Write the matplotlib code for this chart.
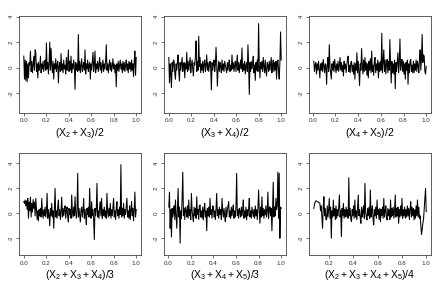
import numpy as np
import matplotlib
matplotlib.use("Agg")
import matplotlib.pyplot as plt

plt.rcParams['font.family'] = ['Liberation Sans', 'DejaVu Sans']
plt.rcParams['mathtext.fontset'] = 'custom'
plt.rcParams['mathtext.rm'] = 'Liberation Sans'
plt.rcParams['mathtext.it'] = 'Liberation Sans'

# series values (evenly spaced between start and end)
p1 = [0.9, -0.9, 0.6, -1.0, 0.5, -1.1, 0.3, -0.8, 0.4, 0.2,
      1.3, -0.3, 0.5, -0.4, 0.2, 0.9, -0.2, 1.4, 1.2, -0.3,
      0.3, -0.8, 0.4, -0.2, 0.1, 0.9, -0.4, 0.3, -0.1, 0.5,
      -0.3, 0.2, 0.6, -0.2, 1.95, -0.1, 0.4, -0.5, 0.3, 2.0,
      -0.2, 1.5, 0.2, -0.4, 0.5, -0.9, 0.3, -0.1, 0.7, -0.3,
      0.2, 0.5, -1.2, 0.1, 0.4, -0.3, 1.1, -0.2, 0.3, -0.4,
      0.6, -0.1, 0.2, -0.5, 0.8, -0.2, 0.3, 1.4, -0.3, 0.5,
      -0.2, 0.9, -0.4, 0.3, -0.1, 0.6, 0.1, -1.7, 0.4, -0.2,
      0.3, -0.3, 2.6, -0.2, 0.5, -0.4, 0.2, 0.7, -0.3, 0.1,
      0.4, -0.2, 1.4, -0.5, 0.3, -0.1, 0.6, -0.3, 0.2, 0.4,
      -0.9, 0.3, -0.2, 0.5, 1.2, -0.3, 0.2, 1.3, -0.4, 0.3,
      -0.1, 0.5, -0.3, 0.2, 0.8, -0.2, 0.4, -0.4, 0.1, 0.6,
      -0.3, 0.3, -0.1, 0.5, 1.8, -0.2, 0.3, -0.4, 0.2, 0.6,
      -0.2, 0.4, -0.3, 0.1, 0.7, -0.1, 0.3, -0.4, 0.2, -1.5,
      0.3, -0.2, 0.5, -0.3, 0.2, 0.6, -0.1, 0.3, -0.4, 0.5,
      -0.2, 0.4, -0.3, 0.2, 0.6, -0.2, 0.3, -0.4, 0.5, -0.1,
      0.4, -0.3, 0.6, -0.2, 0.3, -0.7, 0.5, 1.3, -0.6, 0.8]

p2 = [0.8, -1.2, 0.3, -0.5, -1.55, 0.4, -0.3, 0.6, 0.5, -0.4,
      -0.9, 0.3, -0.2, 0.5, 1.0, -0.3, -1.05, 0.4, -0.2, 0.3,
      0.8, -0.3, 0.2, 0.4, -0.8, 0.3, -0.1, 1.2, -0.3, 0.5,
      -0.2, 0.3, 0.8, -0.4, 0.2, 0.6, -0.1, -0.65, 0.4, 0.2,
      0.9, 2.1, -0.3, 0.5, -0.2, 2.47, 0.1, 0.8, -0.4, 0.3,
      -0.2, 0.5, -0.4, 0.3, 0.6, -0.3, 0.2, 1.0, -0.2, 0.4,
      -0.3, 0.2, 0.5, -0.1, -1.75, 0.4, -0.2, 0.3, 0.6, -0.3,
      0.2, 1.6, 0.3, -1.45, -0.2, 0.5, -0.3, 0.4, 0.1, -0.4,
      0.6, -0.2, 0.3, -0.3, 0.5, 0.2, -0.1, -0.4, 0.4, -0.2,
      0.3, 0.6, -0.3, 0.2, -0.2, 1.0, -0.1, 0.4, -0.3, 0.2,
      0.5, -0.3, 0.3, 1.0, -0.2, 0.4, -0.4, 0.2, 0.6, -0.1,
      1.55, -0.3, 0.3, -0.2, 0.5, -0.5, 0.2, 0.4, -0.3, 1.8,
      0.2, -2.1, 0.4, -0.3, 0.5, -0.1, 0.3, 0.9, -0.4, 0.2,
      -1.0, 0.4, -0.2, 0.6, -0.3, 3.45, 0.2, -0.8, 0.4, -0.1,
      0.5, -0.3, 0.8, 0.1, -0.4, 0.6, -0.2, -0.65, 0.4, 0.2,
      -0.3, 0.5, -0.2, 0.3, 0.8, -0.4, 0.2, 0.6, -0.3, 0.4,
      -0.2, 0.5, -0.9, 0.3, 0.6, -0.3, -0.9, 0.4, 2.8, 0.6]

p3 = [0.5, -0.3, 0.2, 0.4, -0.5, 0.3, -0.2, 0.5, -0.1, -0.8,
      0.3, -0.2, 0.4, -0.3, 0.65, 0.1, -0.4, 0.3, 0.2, -1.3,
      0.2, 0.8, -0.3, 1.8, 0.1, -0.4, -0.9, 0.3, -0.2, 0.5,
      -0.3, 0.65, 0.1, -0.4, 0.3, -0.2, 0.5, -0.3, 0.2, 0.8,
      -0.2, 0.4, -0.3, 0.2, -0.65, 0.5, -0.1, 0.3, -0.4, 0.2,
      0.6, 0.9, -0.3, 0.2, -0.4, 0.4, 0.5, -0.3, 0.2, -0.5,
      0.4, -0.9, 0.3, -0.2, 1.17, -0.4, 0.5, -0.3, -1.4, 0.3,
      -0.2, 1.5, 0.2, -0.5, 0.6, -0.3, 0.8, -0.2, 0.4, -0.6,
      0.3, -0.8, 0.5, -0.2, 0.7, -0.4, 1.3, -0.3, 0.2, -0.6,
      0.5, 0.8, -0.4, 0.3, -0.2, 0.6, -0.8, 0.4, -0.3, 0.5,
      -0.2, 2.7, -0.4, 0.5, 1.4, -0.3, 0.6, -0.5, 0.3, 0.65,
      -0.4, 0.5, -0.2, 2.2, 0.3, -1.2, 0.5, -0.4, 0.3, -0.5,
      0.6, -1.65, 0.4, -0.3, 0.5, 1.17, -0.4, 0.3, 2.25, -0.2,
      0.4, 0.65, -0.3, 0.5, -0.5, 0.3, -0.9, 0.4, -0.2, 0.6,
      -1.3, 0.3, -0.4, 0.5, 0.65, -0.3, 0.2, -0.4, 0.5, -0.4,
      0.3, -0.2, 0.6, -0.3, 0.5, 0.2, -0.4, 0.7, 1.4, -0.2,
      0.8, 2.6, 0.4, 1.0, 0.9, -0.3, -0.5, 0.1]

p4 = [0.93, 0.8, 1.07, 0.6, 1.0, 0.3, 1.2, -0.4, 0.9, 0.2,
      1.3, -0.3, 0.8, 0.1, 1.1, 0.4, 0.9, -0.2, 1.2, 0.3,
      -0.5, 0.2, -0.6, 0.3, -0.2, 0.4, -0.3, 1.2, 0.1, -0.4,
      0.3, -0.2, 0.5, -0.3, 0.2, 1.6, -0.4, 0.3, -0.1, -1.0,
      0.4, -0.2, 0.8, -0.3, 0.2, -1.2, 0.4, 2.0, -0.3, 0.2,
      -0.4, 0.5, 1.07, -0.2, 0.3, -0.5, 0.2, 1.3, -0.3, 0.4,
      -0.2, 0.3, 0.6, -0.4, 0.2, 0.5, -0.3, -0.7, 0.4, -0.1,
      0.3, -0.4, 1.47, 0.2, -0.3, 0.5, -0.2, 1.33, 0.1, -0.4,
      0.3, 3.2, -0.3, 0.4, -0.2, -0.7, 0.3, 0.5, -0.3, 0.2,
      1.2, -0.4, 0.3, -0.2, -0.9, 0.4, -0.1, 0.5, -0.3, 2.0,
      0.2, -0.4, 0.93, -0.2, 0.3, -0.5, -2.1, 0.4, -0.2, 0.3,
      2.4, -0.3, 0.2, -0.4, 0.5, 0.93, -0.2, 1.2, -0.4, 0.3,
      -0.2, 0.5, -0.3, 0.2, -0.4, 1.6, 0.1, -0.3, 0.4, -0.2,
      0.8, -0.4, 0.3, -0.2, 0.5, 1.2, -0.3, 0.2, -0.5, 0.4,
      0.93, -0.2, 0.3, -0.4, 0.5, -0.1, 3.9, -0.3, 0.4, -0.2,
      0.8, -0.4, 0.3, -0.1, 0.5, 1.2, -0.3, 0.2, -0.4, 0.6,
      -0.5, 0.3, 0.93, -0.2, 0.4, -0.6, 0.3, 1.7, -0.3, 0.3]

p5 = [0.5, 1.7, -1.2, 0.3, -1.9, 0.4, -0.3, 0.1, 0.6, -0.5,
      1.07, -0.2, -1.2, 0.4, 2.0, -0.3, 0.5, -2.4, 0.2, -0.4,
      1.2, 3.3, -0.2, 0.4, -0.5, 0.5, 0.2, -0.3, 0.6, -0.4,
      1.07, -0.2, 0.3, -0.5, 1.6, 0.2, -0.3, -0.67, 0.5, -0.2,
      0.4, -0.4, 1.33, -0.1, 0.3, -0.5, 0.6, 0.67, -0.3, 0.2,
      -0.4, 0.5, -0.53, 0.3, 0.8, -0.3, 0.2, -1.4, 0.4, -0.2,
      0.5, -0.3, 1.2, -0.1, 0.3, -0.4, 0.6, 0.53, -0.3, 0.2,
      -0.5, 0.4, 1.6, -0.2, 0.3, -0.4, 0.5, -0.1, 0.3, -0.5,
      1.2, 0.2, -0.3, 0.4, -0.2, -0.67, 0.5, -0.3, 0.2, 0.6,
      0.93, -0.3, 0.2, -0.4, 0.5, -0.2, 0.3, 0.67, -0.4, 0.2,
      -0.3, 0.5, 3.2, -0.2, 0.3, -0.4, 0.4, 0.13, -0.3, 0.5,
      -0.2, 0.3, 1.07, -0.4, 0.2, -0.3, 0.5, -0.53, 0.3, -0.2,
      0.4, 1.2, -0.3, 0.2, -0.4, 0.5, 0.1, -0.27, 0.3, -0.4,
      0.6, -0.2, 0.3, -0.5, 0.4, 1.87, 0.2, -0.8, 0.5, -0.3,
      1.33, -0.2, 0.4, -0.4, 0.3, -0.13, 0.6, -0.3, 0.2, 1.7,
      -0.4, 0.3, 0.53, -0.2, 0.4, -1.4, 0.3, 2.5, -0.3, 0.5,
      -0.2, 1.2, 0.3, 0.6, 3.3, -0.4, 3.2, -2.0, 0.5, 0.4]

p6 = [0.4, 0.7, 0.9, 1.0, 0.98, 0.95, 0.93, 0.9, 0.85, 0.8,
      0.2, 0.6, -0.3, -1.2, 0.5, 1.33, -0.2, 0.4, -0.5, -0.53,
      0.6, -0.3, 0.3, 1.2, -0.4, 0.5, -2.0, 0.2, -0.3, 1.07,
      -0.2, 0.4, -0.5, 0.6, -0.4, 0.3, -0.2, 0.5, 1.47, -0.3,
      0.2, -1.87, 0.4, -0.2, 0.8, -0.4, 0.3, -0.3, 0.5, -0.27,
      0.3, -0.4, 2.85, -0.2, 0.4, -0.5, -0.67, 0.3, -0.2, 0.6,
      -0.4, 1.07, -0.3, 0.2, -0.5, 0.4, 1.47, -0.2, 0.3, -0.4,
      -0.8, 0.5, -0.3, 0.2, 0.6, -0.4, 2.4, 0.1, -0.3, -0.53,
      0.4, -0.2, 0.5, -0.4, 1.87, -0.3, 0.2, 0.6, -0.4, -0.93,
      0.3, -0.2, 0.5, -0.4, 1.07, -0.1, 0.3, -0.5, 0.4, -0.67,
      0.3, -0.2, 0.5, -0.4, 1.2, -0.3, 0.2, 0.6, -0.4, -0.53,
      0.4, -0.2, 0.3, -0.5, 1.07, -0.3, 0.4, -0.2, 0.5, -0.4,
      0.2, 1.47, -0.3, 0.4, -0.2, 0.5, -0.8, 0.3, -0.3, 0.6,
      -0.2, 1.2, -0.4, 0.3, -0.2, 0.5, -0.4, 0.3, -0.3, 0.6,
      -0.2, 0.4, -0.5, 0.3, 0.93, -0.3, 0.5, -0.2, 0.4, -0.53,
      0.3, -0.4, 0.6, -0.2, 1.07, -0.3, 0.5, -0.4, -0.2, -0.9,
      -1.7, -1.3, -0.8, -0.5, 0.3, 1.2, 2.0, 0.13]

series = [p1, p2, p3, p4, p5, p6]
x_start = [0.0, 0.0, 0.01, 0.0, 0.005, 0.074]
x_end = [1.0, 1.0, 1.0, 1.0, 1.0, 1.0]
labels = [r'$(\mathrm{X}_2+\mathrm{X}_3)/2$',
          r'$(\mathrm{X}_3+\mathrm{X}_4)/2$',
          r'$(\mathrm{X}_4+\mathrm{X}_5)/2$',
          r'$(\mathrm{X}_2+\mathrm{X}_3+\mathrm{X}_4)/3$',
          r'$(\mathrm{X}_3+\mathrm{X}_4+\mathrm{X}_5)/3$',
          r'$(\mathrm{X}_2+\mathrm{X}_3+\mathrm{X}_4+\mathrm{X}_5)/4$']
yticks = [-2, 0, 2, 4]

fig = plt.figure(figsize=(4.37, 2.87), dpi=100)
lefts = [0.0442, 0.376, 0.7078]
rows = [(0.6073, 0.337, (-3.53, 4.05)), (0.1115, 0.354, (-3.34, 4.8))]

for k in range(6):
    r, c = divmod(k, 3)
    bottom, height, ylim = rows[r]
    ax = fig.add_axes([lefts[c], bottom, 0.2778, height])
    vals = np.array(series[k])
    x = np.linspace(x_start[k], x_end[k], len(vals))
    ax.plot(x, vals, color='black', linewidth=0.75)
    span = x_end[k] - x_start[k]
    ax.set_xlim(x_start[k] - 0.04 * span, x_end[k] + 0.04 * span)
    ax.set_ylim(*ylim)
    if k == 5:
        ax.set_xticks([0.2, 0.4, 0.6, 0.8, 1.0])
    else:
        ax.set_xticks([0.0, 0.2, 0.4, 0.6, 0.8, 1.0])
    ax.xaxis.set_major_formatter(plt.FormatStrFormatter('%.1f'))
    ax.set_yticks(yticks)
    ax.set_yticklabels([str(t) for t in yticks], rotation=90, va='center')
    ax.tick_params(labelsize=4.5, length=2, width=0.5, pad=2, colors='#333333')
    for s in ax.spines.values():
        s.set_linewidth(0.6)
        s.set_color('#444444')
    ax.set_xlabel(labels[k], fontsize=7.5, labelpad=2)

fig.savefig('out.png', dpi=100)
